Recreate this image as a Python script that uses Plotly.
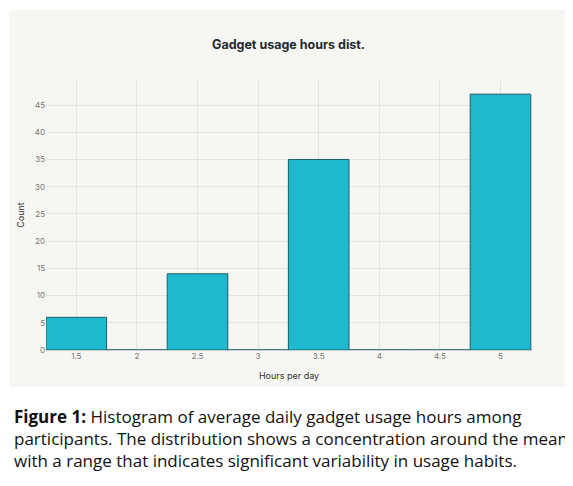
import plotly.graph_objects as go

hours = [1.5, 2, 2.5, 3, 3.5, 4, 4.5, 5]
counts = [6, 0, 14, 0, 35, 0, 0, 47]
x_ticks = [1.5, 2, 2.5, 3, 3.5, 4, 4.5, 5]
x_tick_labels = ["1.5", "2", "2.5", "3", "3.5", "4", "4.5", "5"]
caption_lines = [
    "<b>Figure 1:</b> Histogram of average daily gadget usage hours among",
    "participants. The distribution shows a concentration around the mean,",
    "with a range that indicates significant variability in usage habits.",
]

OFF = 8
L, R, T, B = 42 - OFF, 41 + OFF, 80 - OFF, 136 + OFF
W, H = 573, 486
pw, ph = W - L - R, H - T - B
def px(x): return (x - OFF - L) / pw
def py(y): return (H - B - (y - OFF)) / ph

fig = go.Figure(go.Bar(
    x=hours, y=counts, width=0.5,
    marker=dict(color="#1eb8cf", line=dict(color="#1d5f6a", width=1)),
))

shapes = [dict(type="rect", xref="paper", yref="paper", x0=px(5), x1=px(565),
               y0=py(387), y1=py(10), fillcolor="#f6f6f2", line=dict(width=0), layer="below")]
annotations = [dict(text="<b>Gadget usage hours dist.</b>", xref="paper", yref="paper",
                    x=px(286), y=py(35), showarrow=False,
                    font=dict(family="Inter", size=12.5, color="#1d2a30")),]
for i, line in enumerate(caption_lines):
    annotations.append(dict(text=line, xref="paper", yref="paper", x=px(8), y=py(416 + 22 * i),
                            xanchor="left", yanchor="middle", showarrow=False,
                            font=dict(family="Open Sans", size=17, color="#111")))

fig.update_layout(
    width=W, height=H, margin=dict(l=L, r=R, t=T, b=B),
    paper_bgcolor="white", plot_bgcolor="rgba(0,0,0,0)",
    shapes=shapes, annotations=annotations, showlegend=False,
    font=dict(family="Inter", color="#555"),
)
fig.update_xaxes(range=[1.25, 5.26], tickvals=x_ticks, ticktext=x_tick_labels,
                 tickfont=dict(size=8, color="#777"), showgrid=True, gridcolor="#e3e3df",
                 zeroline=False, title=dict(text="Hours per day", font=dict(size=9, color="#333"), standoff=12),
                 ticks="", showline=False)
fig.update_yaxes(range=[0, 49.6], tickvals=list(range(0, 50, 5)),
                 tickfont=dict(size=8, color="#777"), showgrid=True, gridcolor="#e3e3df",
                 zeroline=True, zerolinecolor="#ccc",
                 title=dict(text="Count", font=dict(size=9, color="#333"), standoff=8))
fig.write_html("out.html")
